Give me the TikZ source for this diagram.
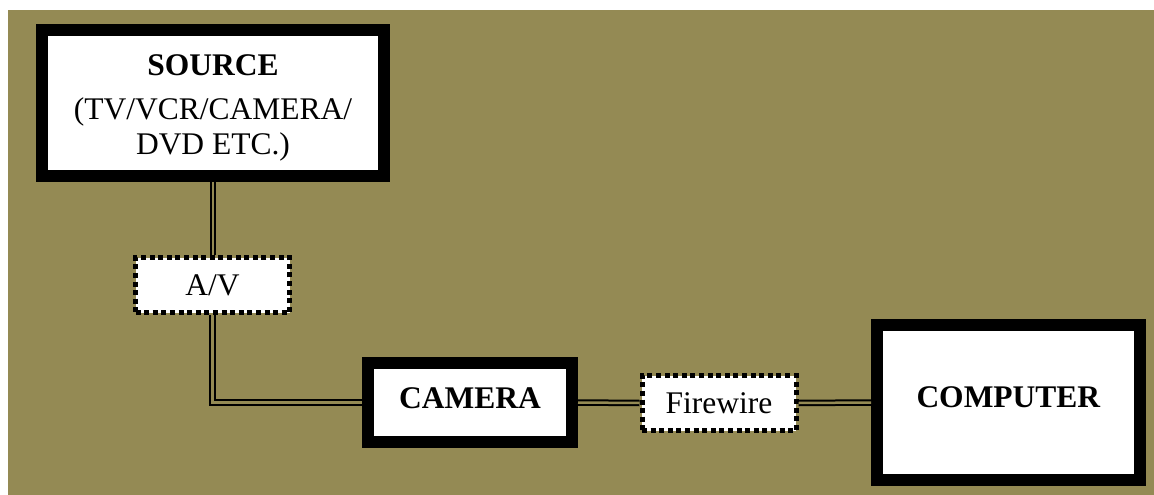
\documentclass[tikz,border=0pt]{standalone}
\usepackage{fontspec}
\setmainfont{Liberation Serif}
\definecolor{olivebg}{HTML}{948A54}
\tikzset{
  devbox/.style={draw=black,line width=12pt,fill=white,inner sep=0pt,align=center,
    font=\fontsize{31.5}{35}\selectfont},
  linkbox/.style={draw=black,line width=5pt,dash pattern=on 5pt off 3.6pt,fill=white,
    inner sep=0pt,minimum width=154pt,minimum height=55pt,font=\fontsize{31.5}{35}\selectfont},
  cable/.style={draw=black,line width=2pt,double=olivebg,double distance=2.5pt}
}

\begin{document}
\begin{tikzpicture}[x=1pt,y=-1pt]
  % page and olive backdrop
  \useasboundingbox (0,0) rectangle (1154,495);
  \fill[olivebg] (8,10) rectangle (1154,495);
  % devices
  \node[devbox,minimum width=342pt,minimum height=146pt,text height=110pt] (source) at (213,103)
    {\textbf{SOURCE}\\[9pt](TV/VCR/CAMERA/\\DVD ETC.)};
  \node[devbox,minimum width=204pt,minimum height=79pt,text depth=9pt] (camera) at (470,402.5) {\textbf{CAMERA}};
  \node[devbox,minimum width=263pt,minimum height=155pt,text depth=10pt] (computer) at (1008.5,402.5) {\textbf{COMPUTER}};
  % links
  \node[linkbox] (av) at (212.5,285) {A/V};
  \node[linkbox] (firewire) at (719,403) {Firewire};
  % cables
  \draw[cable] (source.south) -- (source.south |- av.north);
  \draw[cable] (av.south) |- (camera.west);
  \draw[cable] (camera.east) -- (firewire.west);
  \draw[cable] (firewire.east) -- (computer.west);
\end{tikzpicture}
\end{document}
